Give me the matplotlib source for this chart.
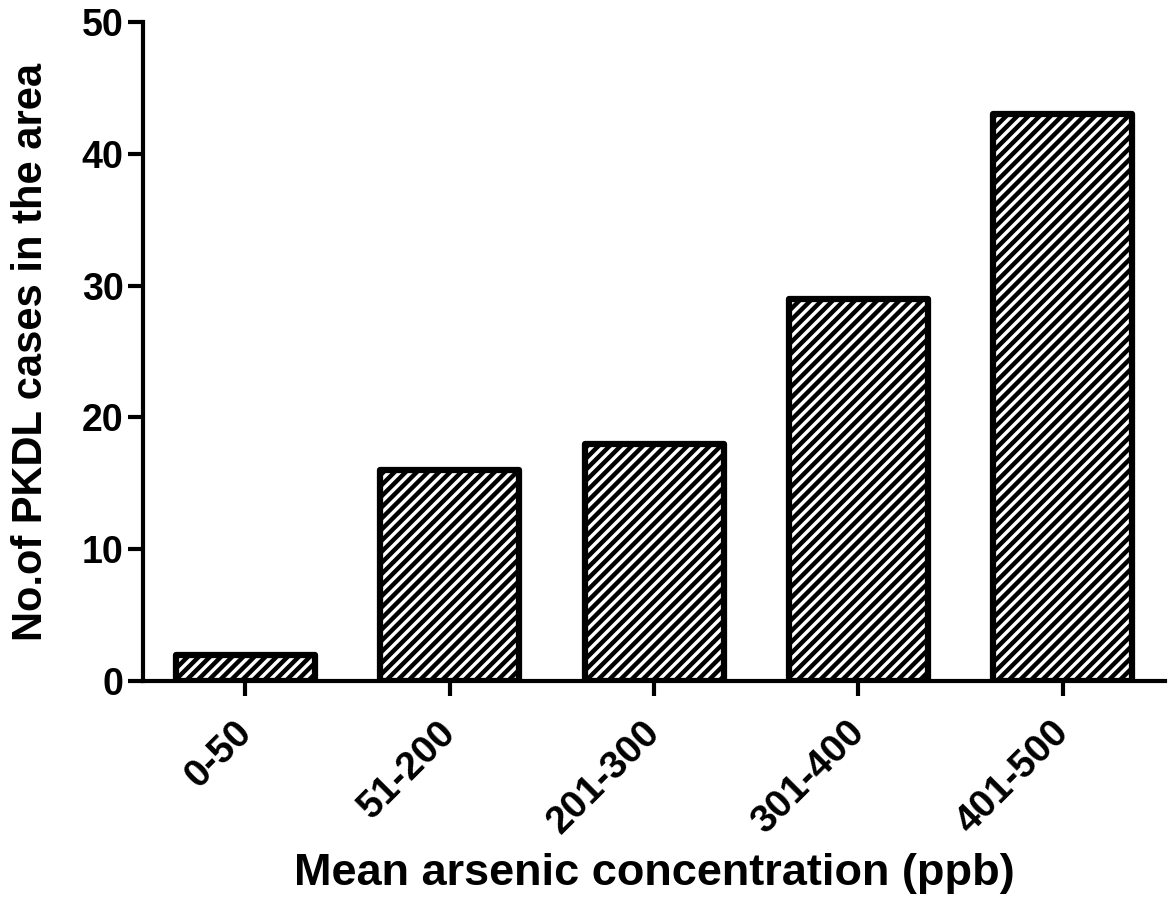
import matplotlib
matplotlib.use("Agg")
import matplotlib.pyplot as plt
import matplotlib.transforms as mtransforms

# data
categories = ["0-50", "51-200", "201-300", "301-400", "401-500"]
cases = [2, 16, 18, 29, 43]
yticks = [0, 10, 20, 30, 40, 50]

plt.rcParams['font.family'] = ['Liberation Sans', 'DejaVu Sans']
plt.rcParams['font.weight'] = 'bold'
plt.rcParams['hatch.linewidth'] = 3.2
plt.rcParams['hatch.color'] = 'black'

fig = plt.figure(figsize=(11.71, 9.07), dpi=100)
ax = fig.add_axes([0.1221, 0.2492, 0.8728, 0.7265])

x = range(len(categories))
ax.bar(x, cases, width=0.68, color='white', edgecolor='black',
       linewidth=4.5, hatch='///', joinstyle='round')

ax.set_xlim(-0.5, 4.5)
ax.set_ylim(0, 50)
ax.set_yticks(yticks)
ax.set_xticks(list(x))
ax.set_xticklabels(categories, rotation=45, ha='right', rotation_mode='anchor')

for s in ['top', 'right']:
    ax.spines[s].set_visible(False)
for s in ['left', 'bottom']:
    ax.spines[s].set_linewidth(3)

ax.tick_params(axis='both', direction='out', length=11, width=3, pad=3)
ax.tick_params(axis='y', labelsize=27)
ax.tick_params(axis='x', labelsize=28, pad=8)
for lab in ax.get_xticklabels() + ax.get_yticklabels():
    lab.set_fontweight('bold')

# nudge the rotated labels a little left and down
shift = mtransforms.ScaledTranslation(-12 / 100, -7 / 100, fig.dpi_scale_trans)
for lab in ax.get_xticklabels():
    lab.set_transform(lab.get_transform() + shift)

ax.set_xlabel('Mean arsenic concentration (ppb)', fontsize=32.5,
              fontweight='bold', labelpad=9)
ax.set_ylabel('No.of PKDL cases in the area', fontsize=30,
              fontweight='bold', labelpad=22)

fig.savefig('out.png', dpi=100)
